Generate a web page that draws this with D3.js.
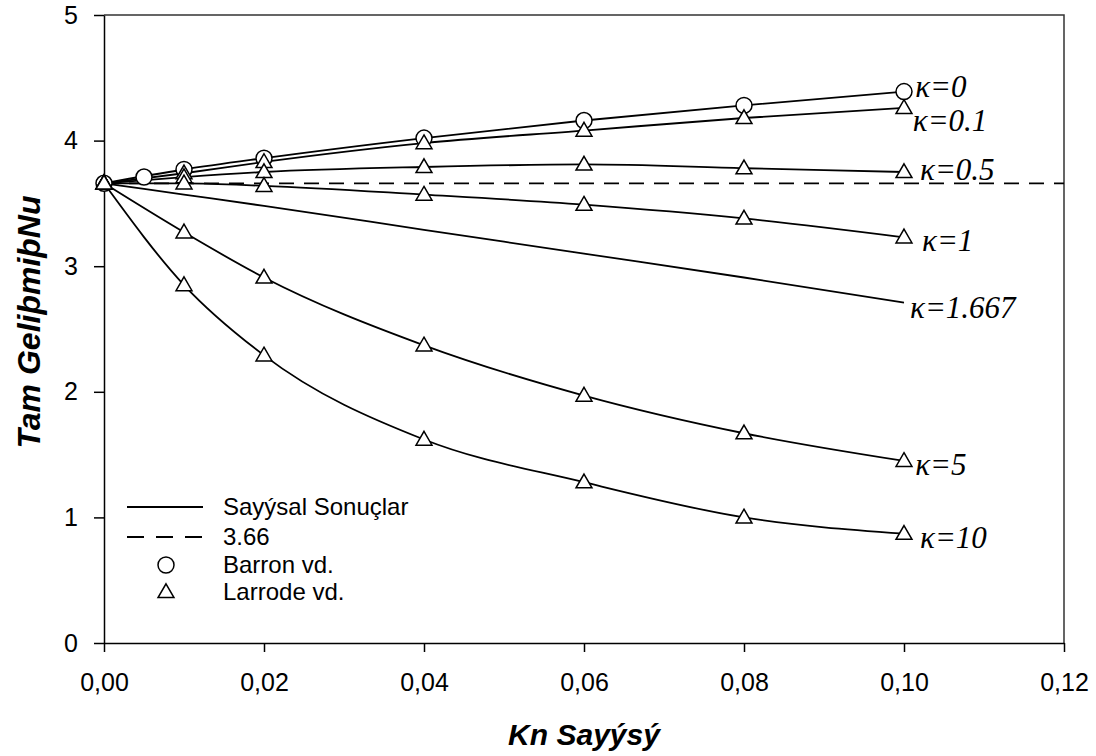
<!DOCTYPE html>
<html>
<head>
<meta charset="utf-8">
<script src="https://cdn.jsdelivr.net/npm/d3@7"></script>
<style>
  html, body { margin: 0; padding: 0; background: #fff; }
  svg { display: block; }
</style>
</head>
<body>
<div id="chart"></div>
<script>
'use strict';

// Kn values of the computed curves
const knNum = [0, 0.01, 0.02, 0.04, 0.06, 0.08, 0.10];

// Sayýsal Sonuçlar (numerical), one array per kappa
const numK0 = [3.66, 3.77, 3.86, 4.02, 4.16, 4.28, 4.39];
const numK01 = [3.66, 3.74, 3.83, 3.98, 4.08, 4.18, 4.26];
const numK05 = [3.66, 3.71, 3.75, 3.79, 3.81, 3.78, 3.75];
const numK1 = [3.66, 3.66, 3.64, 3.57, 3.49, 3.38, 3.23];
const numK1667 = [3.66, 3.57, 3.48, 3.29, 3.10, 2.91, 2.71];
const numK5 = [3.66, 3.27, 2.91, 2.37, 1.97, 1.67, 1.45];
const numK10 = [3.66, 2.85, 2.29, 1.62, 1.28, 1.00, 0.87];

// Barron vd. (circles), kappa = 0
const knBarron = [0, 0.005, 0.01, 0.02, 0.04, 0.06, 0.08, 0.10];
const nuBarron = [3.66, 3.71, 3.77, 3.86, 4.02, 4.16, 4.28, 4.39];

// Larrode vd. (triangles)
const knLarrode = [0, 0.01, 0.02, 0.04, 0.06, 0.08, 0.10];
const larK01 = [3.66, 3.74, 3.83, 3.98, 4.08, 4.18, 4.26];
const larK05 = [3.66, 3.71, 3.75, 3.79, 3.81, 3.78, 3.75];
const larK1 = [3.66, 3.66, 3.64, 3.57, 3.49, 3.38, 3.23];
const larK5 = [3.66, 3.27, 2.91, 2.37, 1.97, 1.67, 1.45];
const larK10 = [3.66, 2.85, 2.29, 1.62, 1.28, 1.00, 0.87];

const fullyDeveloped = 3.66;

// curve labels and their anchor in data units
const kappaLabels = ['κ=0', 'κ=0.1', 'κ=0.5', 'κ=1', 'κ=1.667', 'κ=5', 'κ=10'];
const labelKn = [0.1014, 0.1011, 0.1020, 0.10225, 0.10075, 0.1014, 0.1020];
const labelNu = [4.43, 4.16, 3.77, 3.21, 2.675, 1.42, 0.845];

const xTicks = [0, 0.02, 0.04, 0.06, 0.08, 0.10, 0.12];
const xTickLabels = ['0,00', '0,02', '0,04', '0,06', '0,08', '0,10', '0,12'];
const yTicks = [0, 1, 2, 3, 4, 5];
const yTickLabels = ['0', '1', '2', '3', '4', '5'];

const legendLabels = ['Sayýsal Sonuçlar', '3.66', 'Barron vd.', 'Larrode vd.'];

const W = 1096, H = 756;
const margin = { top: 15, right: 32, bottom: 113, left: 104 };
const sans = 'Arial, "Liberation Sans", sans-serif';
const serif = '"Times New Roman", "Liberation Serif", serif';

const svg = d3.select('#chart').append('svg')
  .attr('width', W)
  .attr('height', H);

const x = d3.scaleLinear().domain([0, 0.12]).range([margin.left, W - margin.right]);
const y = d3.scaleLinear().domain([0, 5]).range([H - margin.bottom, margin.top]);

// frame (top + right)
svg.append('path')
  .attr('d', `M${x(0)},${y(5)}H${x(0.12)}V${y(0)}`)
  .attr('fill', 'none')
  .attr('stroke', '#333')
  .attr('stroke-width', 1.5);

const xAxis = d3.axisBottom(x)
  .tickValues(xTicks)
  .tickFormat((d, i) => xTickLabels[i])
  .tickSize(9)
  .tickSizeOuter(0)
  .tickPadding(21);

const yAxis = d3.axisLeft(y)
  .tickValues(yTicks)
  .tickFormat((d, i) => yTickLabels[i])
  .tickSize(10)
  .tickSizeOuter(0)
  .tickPadding(16);

const gx = svg.append('g')
  .attr('transform', `translate(0,${y(0)})`)
  .call(xAxis);
const gy = svg.append('g')
  .attr('transform', `translate(${x(0)},0)`)
  .call(yAxis);

[gx, gy].forEach(g => {
  g.selectAll('path, line').attr('stroke', '#000').attr('stroke-width', 1.5);
  g.selectAll('text')
    .attr('fill', '#000')
    .style('font-family', sans)
    .style('font-size', '25px');
});

// axis titles
svg.append('text')
  .attr('x', x(0.06))
  .attr('y', 745)
  .attr('text-anchor', 'middle')
  .style('font-family', sans)
  .style('font-size', '30px')
  .style('font-weight', 'bold')
  .style('font-style', 'italic')
  .text('Kn Sayýsý');

svg.append('text')
  .attr('transform', `translate(40,322) rotate(-90)`)
  .attr('text-anchor', 'middle')
  .style('font-family', sans)
  .style('font-size', '32px')
  .style('font-weight', 'bold')
  .style('font-style', 'italic')
  .text('Tam GeliþmiþNu');

// numerical curves
const numSeries = [numK0, numK01, numK05, numK1, numK1667, numK5, numK10];
const line = d3.line()
  .x(d => x(d[0]))
  .y(d => y(d[1]))
  .curve(d3.curveMonotoneX);

svg.append('g').selectAll('path')
  .data(numSeries)
  .join('path')
  .attr('d', s => line(knNum.map((k, i) => [k, s[i]])))
  .attr('fill', 'none')
  .attr('stroke', '#000')
  .attr('stroke-width', 1.8);

// 3.66 fully developed line
svg.append('line')
  .attr('x1', x(0))
  .attr('x2', x(0.12))
  .attr('y1', y(fullyDeveloped))
  .attr('y2', y(fullyDeveloped))
  .attr('stroke', '#000')
  .attr('stroke-width', 1.8)
  .attr('stroke-dasharray', '15,10');

// markers
const triangle = d3.symbol().type(d3.symbolTriangle).size(110);

const larSeries = [larK01, larK05, larK1, larK5, larK10];
const larPts = larSeries.flatMap(s => knLarrode.map((k, i) => [k, s[i]]));

svg.append('g').selectAll('circle')
  .data(knBarron.map((k, i) => [k, nuBarron[i]]))
  .join('circle')
  .attr('cx', d => x(d[0]))
  .attr('cy', d => y(d[1]))
  .attr('r', 8)
  .attr('fill', '#fff')
  .attr('stroke', '#000')
  .attr('stroke-width', 1.5);

svg.append('g').selectAll('path')
  .data(larPts)
  .join('path')
  .attr('transform', d => `translate(${x(d[0])},${y(d[1]) + 1})`)
  .attr('d', triangle)
  .attr('fill', '#fff')
  .attr('stroke', '#000')
  .attr('stroke-width', 1.5);

// kappa labels
svg.append('g').selectAll('text')
  .data(kappaLabels)
  .join('text')
  .attr('x', (d, i) => x(labelKn[i]))
  .attr('y', (d, i) => y(labelNu[i]))
  .attr('dy', '0.35em')
  .style('font-family', serif)
  .style('font-style', 'italic')
  .style('font-size', '31px')
  .text(d => d);

// legend
const legRows = [507, 537, 565, 592];
const leg = svg.append('g');
legRows.forEach((ry, i) => {
  if (i === 0 || i === 1) {
    leg.append('line')
      .attr('x1', 127).attr('x2', 203)
      .attr('y1', ry).attr('y2', ry)
      .attr('stroke', '#000')
      .attr('stroke-width', 1.8)
      .attr('stroke-dasharray', i === 1 ? '17,12' : null);
  } else if (i === 2) {
    leg.append('circle')
      .attr('cx', 166).attr('cy', ry).attr('r', 8)
      .attr('fill', '#fff').attr('stroke', '#000').attr('stroke-width', 1.5);
  } else {
    leg.append('path')
      .attr('transform', `translate(166,${ry + 1})`)
      .attr('d', triangle)
      .attr('fill', '#fff').attr('stroke', '#000').attr('stroke-width', 1.5);
  }
  leg.append('text')
    .attr('x', 223)
    .attr('y', ry)
    .attr('dy', '0.35em')
    .style('font-family', sans)
    .style('font-size', '24px')
    .text(legendLabels[i]);
});
</script>
</body>
</html>
